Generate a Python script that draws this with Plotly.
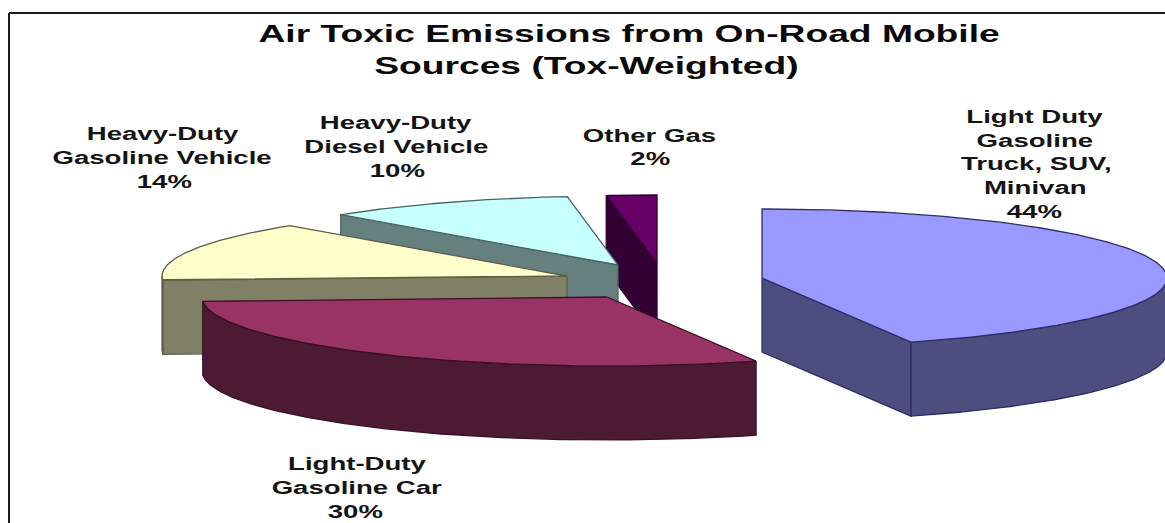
import numpy as np
import plotly.graph_objects as go

# --- data ---
categories = ["Light Duty Gasoline Truck, SUV, Minivan", "Light-Duty Gasoline Car",
              "Heavy-Duty Gasoline Vehicle", "Heavy-Duty Diesel Vehicle", "Other Gas"]
values = [44, 30, 14, 10, 2]

# --- styling / layout (pixels of the 1165x523 page) ---
top_colors = ["#9999FF", "#993366", "#FFFFCC", "#C8FFFF", "#660066"]
wall_colors = ["#4D4D80", "#4D1A33", "#808066", "#668080", "#330033"]
edge_colors = ["#2E2E66", "#3A1026", "#5E5E48", "#4A6464", "#2A002A"]
explode_centers = [(762, 278), (607, 297), (567, 276), (618, 265), (657, 264)]
RX, RY, DEPTH = 405, 69, 74
START_ANGLE = -90.0
FONT = "Liberation Sans, Arial, sans-serif"
TXT = "#141414"
TEXT_STRETCH = 1.5  # the reference's lettering is horizontally stretched

title_lines = [("Air Toxic Emissions from On-Road Mobile", 629, 33),
               ("Sources (Tox-Weighted)", 586, 65)]
label_lines = [
    ("Light Duty", 1035, 116), ("Gasoline", 1035, 140), ("Truck, SUV,", 1036, 163),
    ("Minivan", 1035, 187), ("44%", 1034, 211),
    ("Light-Duty", 357, 463), ("Gasoline Car", 356, 487), ("30%", 355, 511),
    ("Heavy-Duty", 163, 133), ("Gasoline Vehicle", 162, 157), ("14%", 164, 181),
    ("Heavy-Duty", 396, 122), ("Diesel Vehicle", 396, 146), ("10%", 397, 170),
    ("Other Gas", 649, 135), ("2%", 650, 158),
]


def rim(cx, cy, a0, a1, dz=0.0):
    t = np.radians(np.linspace(a0, a1, max(int(abs(a1 - a0) * 2), 2)))
    return cx + RX * np.cos(t), cy + RY * np.sin(t) + dz


def poly(fig, xs, ys, fill, edge):
    fig.add_trace(go.Scatter(x=np.r_[xs, xs[0]], y=np.r_[ys, ys[0]], mode="lines", fill="toself",
                             fillcolor=fill, line=dict(color=edge, width=1.3),
                             hoverinfo="skip", showlegend=False))


def radial_wall(fig, cx, cy, ang, fill, edge):
    ex, ey = rim(cx, cy, ang, ang + 0.01)
    poly(fig, np.array([cx, ex[0], ex[0], cx]), np.array([cy, ey[0], ey[0] + DEPTH, cy + DEPTH]), fill, edge)


fig = go.Figure()

fracs = np.array(values, float) / sum(values) * 360
starts = START_ANGLE + np.r_[0, np.cumsum(fracs)[:-1]]
ends = starts + fracs

# back-to-front painting order
for i in [4, 3, 2, 1, 0]:
    cx, cy = explode_centers[i]
    a0, a1 = starts[i], ends[i]
    if np.cos(np.radians(a0)) < -1e-6:
        radial_wall(fig, cx, cy, a0, wall_colors[i], edge_colors[i])
    if np.cos(np.radians(a1)) > 1e-6:
        radial_wall(fig, cx, cy, a1, wall_colors[i], edge_colors[i])
    # outer wall: the part of the rim that faces the viewer (sin > 0)
    for lo, hi in [(0, 180), (360, 540)]:
        w0, w1 = max(a0, lo), min(a1, hi)
        if w1 > w0:
            tx, ty = rim(cx, cy, w0, w1)
            bx, by = rim(cx, cy, w1, w0, DEPTH)
            poly(fig, np.r_[tx, bx], np.r_[ty, by], wall_colors[i], edge_colors[i])
    ax, ay = rim(cx, cy, a0, a1)
    poly(fig, np.r_[cx, ax], np.r_[cy, ay], top_colors[i], edge_colors[i])

for text, x, y in title_lines:
    fig.add_annotation(x=x, y=y, text=f"<b>{text}</b>", showarrow=False, xanchor="center", yanchor="middle",
                       font=dict(family=FONT, size=24.8, color="#0A0A0A"))
for text, x, y in label_lines:
    fig.add_annotation(x=x, y=y, text=f"<b>{text}</b>", showarrow=False, xanchor="center", yanchor="middle",
                       font=dict(family=FONT, size=18.4, color=TXT))

fig.add_shape(type="line", x0=9, x1=9, y0=13, y1=523, line=dict(color="#1A1A1A", width=2))
fig.add_shape(type="line", x0=9, x1=1165, y0=13, y1=13, line=dict(color="#1A1A1A", width=2))

fig.update_layout(width=1165, height=523, margin=dict(l=0, r=0, t=0, b=0),
                  paper_bgcolor="white", plot_bgcolor="white", showlegend=False,
                  xaxis=dict(range=[0, 1165], visible=False, fixedrange=True),
                  yaxis=dict(range=[523, 0], visible=False, fixedrange=True))

css = (".annotation-text{transform-box:fill-box;transform-origin:center;"
       f"transform:scaleX({TEXT_STRETCH});}}")
post = ("document.body.style.margin='0';document.body.style.overflow='hidden';"
        "var s=document.createElement('style');s.textContent=" + repr(css) + ";document.head.appendChild(s);")
fig.write_html("out.html", config={"displayModeBar": False}, post_script=post)
